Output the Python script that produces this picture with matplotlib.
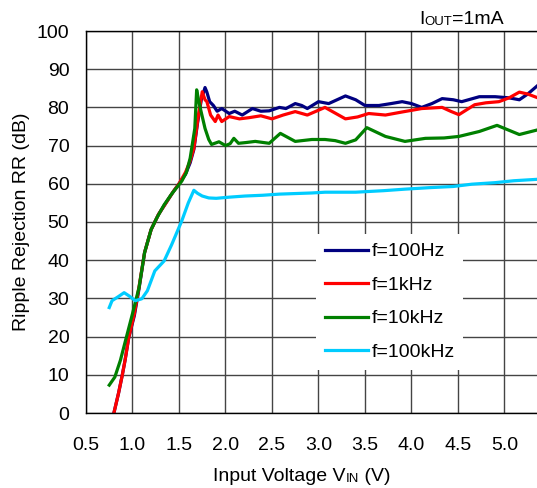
import matplotlib
matplotlib.use("Agg")
import matplotlib.pyplot as plt

plt.rcParams["font.family"] = ["Liberation Sans", "DejaVu Sans"]

# f=100Hz
vin_100hz = [0.80, 0.85, 0.89, 0.92, 0.96, 1.02, 1.07, 1.13, 1.20, 1.28, 1.36, 1.44, 1.50, 1.57,
             1.62, 1.66, 1.70, 1.74, 1.78, 1.80, 1.83, 1.87, 1.91, 1.96, 2.04, 2.10, 2.18, 2.29,
             2.38, 2.47, 2.58, 2.65, 2.75, 2.82, 2.88, 3.00, 3.11, 3.20, 3.29, 3.40, 3.50, 3.65,
             3.78, 3.90, 4.00, 4.11, 4.22, 4.33, 4.45, 4.54, 4.73, 4.90, 5.05, 5.16, 5.25, 5.37]
rr_100hz = [0, 5.2, 9.9, 13.8, 19.8, 25.5, 32.5, 42, 48, 52, 55, 58, 60, 62.5,
            65.5, 69, 76, 82, 85.2, 84, 81.5, 80.5, 79, 79.7, 78.4, 79, 78, 79.7,
            79, 79.1, 80, 79.7, 81, 80.5, 79.7, 81.5, 81, 82, 83, 82, 80.5, 80.5,
            81, 81.5, 81, 80, 81, 82.3, 82, 81.5, 82.8, 82.8, 82.5, 82, 83.5, 86]

# f=1kHz
vin_1khz = [0.80, 0.85, 0.89, 0.92, 0.96, 1.02, 1.07, 1.13, 1.20, 1.28, 1.36, 1.44, 1.50, 1.57,
            1.62, 1.66, 1.71, 1.75, 1.78, 1.80, 1.84, 1.89, 1.92, 1.96, 2.04, 2.15, 2.25, 2.38,
            2.50, 2.62, 2.75, 2.88, 3.07, 3.18, 3.29, 3.42, 3.54, 3.72, 3.90, 4.11, 4.33, 4.42,
            4.51, 4.68, 4.80, 4.94, 5.05, 5.16, 5.25, 5.37]
rr_1khz = [0, 5.2, 9.9, 13.8, 19.8, 26, 33, 42, 48, 52, 55, 58, 60, 63,
           66, 69.3, 78.1, 84.1, 82, 81.5, 78, 76.3, 78, 76.3, 77.6, 77, 77.3, 77.8,
           77, 78, 78.9, 78, 80, 78.5, 77, 77.5, 78.4, 78, 78.8, 79.7, 80, 79,
           78.1, 80.7, 81.2, 81.5, 82.5, 84, 83.5, 82.4]

# f=10kHz
vin_10khz = [0.75, 0.81, 0.87, 0.92, 1.00, 1.07, 1.13, 1.20, 1.26, 1.34, 1.42, 1.53, 1.58, 1.62,
             1.67, 1.69, 1.71, 1.73, 1.78, 1.82, 1.85, 1.93, 2.00, 2.05, 2.09, 2.14, 2.22, 2.32,
             2.47, 2.59, 2.75, 2.93, 3.07, 3.18, 3.29, 3.40, 3.52, 3.72, 3.93, 4.15, 4.35, 4.51,
             4.73, 4.92, 5.05, 5.16, 5.37]
rr_10khz = [7.3, 9.4, 13.8, 18.5, 26, 32.8, 42, 48, 51, 54.5, 57.3, 60.7, 63, 66.7,
            74.5, 84.6, 82, 79.7, 74.5, 71.6, 70.3, 71, 70, 70.5, 71.9, 70.6, 70.8, 71.1,
            70.6, 73.2, 71.1, 71.6, 71.6, 71.3, 70.6, 71.5, 74.7, 72.4, 71.1, 71.9, 72, 72.4,
            73.7, 75.3, 74, 72.9, 74.2]

# f=100kHz
vin_100khz = [0.75, 0.78, 0.85, 0.91, 0.96, 1.03, 1.10, 1.16, 1.24, 1.34, 1.42, 1.53, 1.60,
              1.66, 1.70, 1.75, 1.82, 1.90, 2.04, 2.21, 2.40, 2.58, 2.93, 3.07, 3.40, 3.70,
              3.93, 4.20, 4.45, 4.65, 4.90, 5.10, 5.37]
rr_100khz = [27.6, 29.4, 30.5, 31.5, 30.7, 29.4, 29.9, 32, 37.2, 39.8, 44, 50.3, 55,
             58.3, 57.5, 56.8, 56.3, 56.2, 56.5, 56.8, 57, 57.3, 57.6, 57.8, 57.8, 58.2,
             58.6, 59, 59.3, 59.9, 60.3, 60.8, 61.2]

series = [
    ("f=100Hz", vin_100hz, rr_100hz, "#000080"),
    ("f=1kHz", vin_1khz, rr_1khz, "#ff0000"),
    ("f=10kHz", vin_10khz, rr_10khz, "#008000"),
    ("f=100kHz", vin_100khz, rr_100khz, "#00ccff"),
]
x_ticks = [0.5, 1.0, 1.5, 2.0, 2.5, 3.0, 3.5, 4.0, 4.5, 5.0]
y_ticks = list(range(0, 101, 10))

FS = 14

fig = plt.figure(figsize=(5.37, 4.88), dpi=100)
ax = fig.add_axes([86 / 537, 1 - 413 / 488, 1 - 86 / 537, (413 - 31) / 488])

for label, x, y, color in series:
    ax.plot(x, y, color=color, linewidth=2.3, label=label)

ax.set_xlim(0.5, 5.35)
ax.set_ylim(0, 100)
ax.set_xticks(x_ticks)
ax.set_xticklabels([f"{v:.1f}" for v in x_ticks])
ax.set_yticks(y_ticks)
ax.tick_params(axis="both", length=0, labelsize=FS)
ax.tick_params(axis="x", pad=17)
ax.tick_params(axis="y", pad=12)
ax.grid(True, color="#444444", linewidth=1.0)
ax.set_axisbelow(True)
for side in ["left", "bottom", "top"]:
    ax.spines[side].set_color("black")
    ax.spines[side].set_linewidth(1.0)
ax.spines["right"].set_visible(False)

ax.set_ylabel("Ripple Rejection RR (dB)", fontsize=FS, labelpad=5)

# x label with small "IN"
t1 = fig.text(213 / 537, 1 - 481 / 488, "Input Voltage V", fontsize=FS, va="baseline")
t2 = ax.annotate("IN", xy=(1, 0), xycoords=t1, fontsize=9.5, va="bottom")
ax.annotate(" (V)", xy=(1, 0), xycoords=t2, fontsize=FS, va="bottom")

# condition label
c1 = fig.text(419 / 537, 1 - 24 / 488, "I", fontsize=FS, va="baseline")
c2 = ax.annotate("OUT", xy=(1, 0), xycoords=c1, fontsize=9.5, va="bottom")
ax.annotate("=1mA", xy=(1, 0), xycoords=c2, fontsize=FS, va="bottom")

leg = ax.legend(loc="upper left", bbox_to_anchor=(316 / 537, 1 - 234 / 488),
                bbox_transform=fig.transFigure, borderaxespad=0, fontsize=FS,
                handlelength=2.2, labelspacing=0.82, handletextpad=0.2, borderpad=0.45,
                frameon=True, fancybox=False)
leg.get_frame().set_facecolor("white")
leg.get_frame().set_edgecolor("none")
leg.get_frame().set_alpha(1.0)

fig.savefig("out.png", dpi=100)
